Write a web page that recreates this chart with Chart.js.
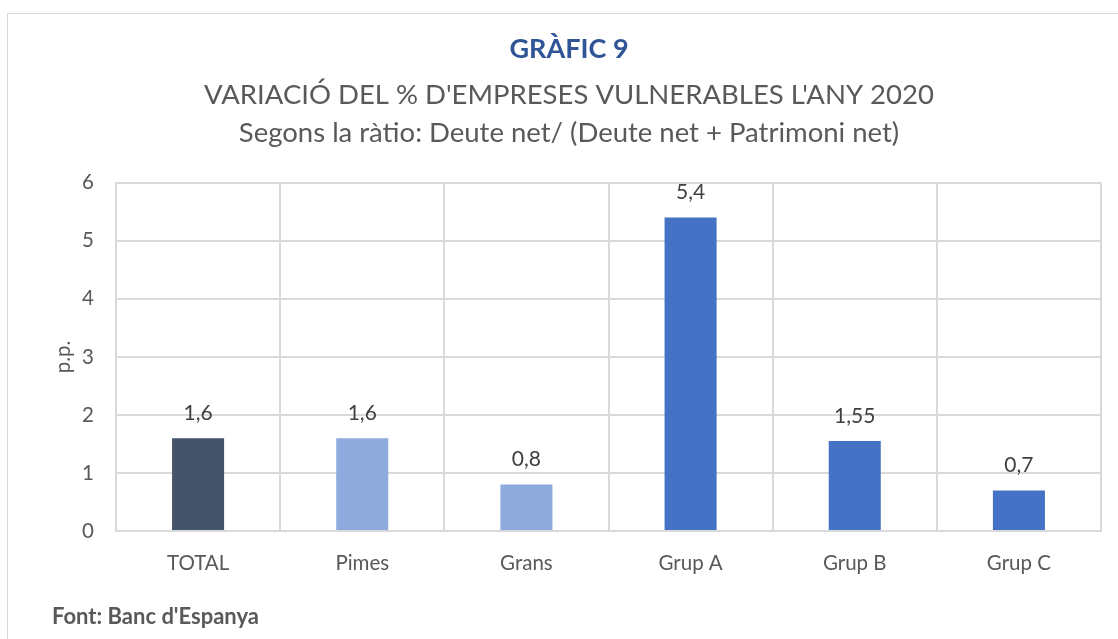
<!DOCTYPE html>
<html>
<head>
<meta charset="utf-8">
<script src="https://cdn.jsdelivr.net/npm/chart.js@4.4.1/dist/chart.umd.min.js"></script>
<style>
  html, body { margin: 0; padding: 0; background: #fff; }
  body { width: 1118px; height: 639px; position: relative; overflow: hidden; font-family: Lato, sans-serif; }
  .frame {
    position: absolute; left: 7px; top: 13px; width: 1120px; height: 640px;
    border: 1px solid #d9d9d9; box-sizing: border-box;
  }
  #chart { position: absolute; left: 0; top: 0; }
  .source {
    position: absolute; left: 52px; top: 602px; line-height: 22px;
    font: bold 22px Lato, sans-serif; color: #595959;
  }
</style>
</head>
<body>
<div class="frame"></div>
<canvas id="chart" width="1118" height="639"></canvas>
<div class="source">Font: Banc d'Espanya</div>
<script>
// Chart data
const categories = ['TOTAL', 'Pimes', 'Grans', 'Grup A', 'Grup B', 'Grup C'];
const values = [1.6, 1.6, 0.8, 5.4, 1.55, 0.7];
const barColors = ['#44546A', '#8FAADC', '#8FAADC', '#4472C4', '#4472C4', '#4472C4'];
const yTicks = [0, 1, 2, 3, 4, 5, 6];

const textColor = '#595959';
const gridColor = '#d9d9d9';

// Format numbers with comma decimal separator
function formatValue(v) {
    return v.toString().replace('.', ',');
}

// Draw value labels above each bar
const barLabels = {
    id: 'barLabels',
    afterDatasetsDraw(chart) {
        const ctx = chart.ctx;
        const meta = chart.getDatasetMeta(0);
        ctx.save();
        ctx.font = '21px Lato, sans-serif';
        ctx.fillStyle = '#404040';
        ctx.textAlign = 'center';
        ctx.textBaseline = 'middle';
        meta.data.forEach((bar, i) => {
            ctx.fillText(formatValue(values[i]), bar.x, bar.y - 25);
        });
        ctx.restore();
    }
};

const ctx = document.getElementById('chart').getContext('2d');
new Chart(ctx, {
    type: 'bar',
    data: {
        labels: categories,
        datasets: [{
            data: values,
            backgroundColor: barColors,
            borderWidth: 0,
            categoryPercentage: 1,
            barPercentage: 0.317
        }]
    },
    options: {
        responsive: false,
        animation: false,
        layout: { padding: { top: 33.5, left: 37, right: 17, bottom: 0 } },
        plugins: {
            legend: { display: false },
            tooltip: { enabled: false },
            title: {
                display: true,
                text: 'GRÀFIC 9',
                color: '#2F5597',
                font: { family: 'Lato', size: 27, weight: 'bold', lineHeight: 1.2 },
                padding: { top: 0, bottom: 10 }
            },
            subtitle: {
                display: true,
                text: ["VARIACIÓ DEL % D'EMPRESES VULNERABLES L'ANY 2020",
                       'Segons la ràtio: Deute net/ (Deute net + Patrimoni net)'],
                color: textColor,
                font: { family: 'Lato', size: 27.5, weight: 'normal', lineHeight: 1.38 },
                padding: { top: 0, bottom: 31 }
            }
        },
        scales: {
            x: {
                grid: { color: gridColor, lineWidth: 2, drawTicks: false },
                border: { color: gridColor, width: 2 },
                ticks: { color: textColor, font: { family: 'Lato', size: 20.5 }, padding: 20 },
                afterFit(scale) { scale.height = 108; }
            },
            y: {
                min: 0,
                max: 6,
                afterBuildTicks(scale) { scale.ticks = yTicks.map(v => ({ value: v })); },
                grid: { color: gridColor, lineWidth: 2, drawTicks: false },
                border: { color: gridColor, width: 2 },
                ticks: { color: textColor, font: { family: 'Lato', size: 20.5 }, padding: 22 },
                title: {
                    display: true,
                    text: 'p.p.',
                    color: textColor,
                    font: { family: 'Lato', size: 20.5 },
                    padding: { top: 14, bottom: 0 }
                },
                afterFit(scale) { scale.width = 79; }
            }
        }
    },
    plugins: [barLabels]
});
</script>
</body>
</html>
